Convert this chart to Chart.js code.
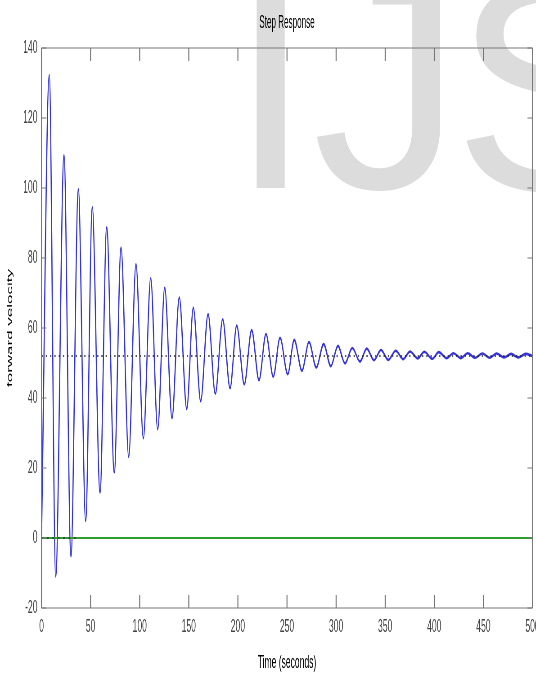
<!DOCTYPE html>
<html>
<head>
<meta charset="utf-8">
<script src="https://cdn.jsdelivr.net/npm/chart.js@4"></script>
<style>
  html, body { margin: 0; padding: 0; background: #fff; overflow: hidden; width: 536px; height: 675px; }
  #wrap { position: absolute; left: 0; top: 0; width: 1192px; height: 675px; transform: scaleX(0.45); transform-origin: 0 0; }
  canvas { display: block; }
</style>
</head>
<body>
<div id="wrap"><canvas id="c" width="1192" height="675"></canvas></div>
<script>
// The figure is laid out wide and squeezed horizontally by this factor.
const SQ = 0.45;
const FONT = '"Liberation Sans", Arial, Helvetica, sans-serif';

// Step response: turning points of the oscillation (time in s, velocity)
const timeSec = [
  0, 7.9, 14.5, 22.9, 30.0, 37.5, 45.0, 51.7, 59.6, 66.4, 74.1, 81.0, 88.8,
  96.2, 103.7, 111.2, 118.3, 125.5, 132.9, 140.3, 147.9, 154.6, 162.1, 169.6,
  177.0, 184.5, 192.0, 198.8, 206.5, 214.0, 221.5, 228.6, 236.0, 242.9, 250.7,
  257.4, 265.2, 272.4, 279.8, 287.3, 294.6, 301.9, 309.0, 316.5, 324.3, 331.2,
  338.6, 345.7, 353.2, 360.7, 368.4, 375.3, 383.1, 389.8, 398.0, 404.5, 412.6,
  419.4, 427.0, 434.0, 441.5, 449.0, 456.3, 463.5, 471.0, 478.2, 485.5, 493.0, 500.0
];
const velocity = [
  0, 132.3, -11.0, 109.4, -5.3, 99.6, 4.9, 94.5, 12.9, 88.8, 18.7, 83.0, 23.2,
  78.3, 28.5, 74.2, 31.1, 71.5, 34.2, 68.7, 36.9, 65.8, 39.1, 64.0,
  41.2, 62.5, 42.8, 60.7, 43.9, 59.4, 45.1, 58.3, 46.1, 57.2, 46.8,
  56.6, 47.8, 56.0, 48.7, 55.4, 49.1, 54.9, 49.9, 54.3, 50.4, 54.1,
  50.8, 53.7, 50.9, 53.5, 51.1, 53.3, 51.3, 53.2, 51.2, 53.1, 51.4,
  52.8, 51.4, 52.8, 51.5, 52.7, 51.5, 52.7, 51.6, 52.6, 51.6, 52.6, 52.0
];

// Steady-state level (dotted)
const finalTime = [0, 500];
const finalLevel = [52, 52];
// Zero reference (green) and its dotted start segment
const inputTime = [0, 500];
const inputLevel = [0, 0];
const startTime = [0, 37];
const startLevel = [0, 0];

// Axis ticks
const xTickValues = [0, 50, 100, 150, 200, 250, 300, 350, 400, 450, 500];
const yTickValues = [-20, 0, 20, 40, 60, 80, 100, 120, 140];

const pts = (xs, ys) => xs.map((x, i) => ({ x: x, y: ys[i] }));

// Large light-grey lettering behind the plot
const watermark = {
  id: 'watermark',
  beforeDraw(chart) {
    const ctx = chart.ctx;
    ctx.save();
    ctx.scale(1 / SQ, 1);
    ctx.fillStyle = '#dcdcdc';
    ctx.font = '300px ' + FONT;
    ctx.textBaseline = 'alphabetic';
    ctx.textAlign = 'left';
    ctx.fillText('IJ', 229, 188);
    ctx.fillText('S', 453, 190);
    ctx.restore();
  }
};

// Axes box with inward tick marks on all four sides
const frame = {
  id: 'frame',
  afterDatasetsDraw(chart) {
    const { ctx, chartArea: a, scales: { x, y } } = chart;
    ctx.save();
    ctx.strokeStyle = '#767676';
    // horizontal strokes
    ctx.lineWidth = 1;
    ctx.beginPath();
    ctx.moveTo(a.left, a.top); ctx.lineTo(a.right, a.top);
    ctx.moveTo(a.left, a.bottom); ctx.lineTo(a.right, a.bottom);
    yTickValues.forEach(v => {
      const py = y.getPixelForValue(v);
      ctx.moveTo(a.left, py); ctx.lineTo(a.left + 5 / SQ, py);
      ctx.moveTo(a.right, py); ctx.lineTo(a.right - 5 / SQ, py);
    });
    ctx.stroke();
    // vertical strokes
    ctx.lineWidth = 1 / SQ;
    ctx.beginPath();
    ctx.moveTo(a.left, a.top); ctx.lineTo(a.left, a.bottom);
    ctx.moveTo(a.right, a.top); ctx.lineTo(a.right, a.bottom);
    xTickValues.forEach(v => {
      const px = x.getPixelForValue(v);
      ctx.moveTo(px, a.bottom); ctx.lineTo(px, a.bottom - 13);
      ctx.moveTo(px, a.top); ctx.lineTo(px, a.top + 13);
    });
    ctx.stroke();
    ctx.restore();
  }
};

new Chart(document.getElementById('c'), {
  type: 'line',
  data: {
    datasets: [
      { label: 'start', data: pts(startTime, startLevel), borderColor: '#333333', borderWidth: 1.3,
        borderDash: [4, 8], pointRadius: 0, order: 0 },
      { label: 'input', data: pts(inputTime, inputLevel), borderColor: '#2e9e2e', borderWidth: 2.2,
        pointRadius: 0, order: 1 },
      { label: 'final value', data: pts(finalTime, finalLevel), borderColor: '#222222', borderWidth: 1.3,
        borderDash: [3, 6.5], pointRadius: 0, order: 2 },
      { label: 'forward velocity', data: pts(timeSec, velocity), borderColor: '#3434dc', borderWidth: 2.6,
        pointRadius: 0, cubicInterpolationMode: 'monotone', order: 3 }
    ]
  },
  options: {
    responsive: false,
    animation: false,
    devicePixelRatio: 1,
    layout: { padding: { left: 0, right: 8.7, top: 0, bottom: 0 } },
    plugins: {
      legend: { display: false },
      tooltip: { enabled: false },
      title: {
        display: true, text: 'Step Response', fullSize: false, color: '#000',
        font: { family: FONT, size: 18, weight: 'normal', lineHeight: 1.2 },
        padding: { top: 12.5, bottom: 13.9 }
      }
    },
    scales: {
      x: {
        type: 'linear', min: 0, max: 500, position: 'bottom',
        afterBuildTicks: s => { s.ticks = xTickValues.map(v => ({ value: v })); },
        afterFit: s => { s.height = 67; s.paddingLeft = 0; s.paddingRight = 0; },
        grid: { display: false, drawTicks: false },
        border: { display: false },
        ticks: { color: '#444', font: { family: FONT, size: 19 }, padding: 7, maxRotation: 0, autoSkip: false },
        title: { display: true, text: 'Time (seconds)', color: '#000',
                 font: { family: FONT, size: 19, lineHeight: 1.2 }, padding: { top: 0, bottom: 1 } }
      },
      y: {
        type: 'linear', min: -20, max: 140,
        afterBuildTicks: s => { s.ticks = yTickValues.map(v => ({ value: v })); },
        afterFit: s => { s.width = 92.2; s.paddingTop = 0; s.paddingBottom = 0; },
        grid: { display: false, drawTicks: false },
        border: { display: false },
        ticks: { color: '#444', font: { family: FONT, size: 19 }, padding: 9 },
        title: { display: true, text: 'forward velocity', color: '#000',
                 font: { family: FONT, size: 17, lineHeight: 1.2 }, padding: { top: 12, bottom: 0 } }
      }
    }
  },
  plugins: [watermark, frame]
});
</script>
</body>
</html>
